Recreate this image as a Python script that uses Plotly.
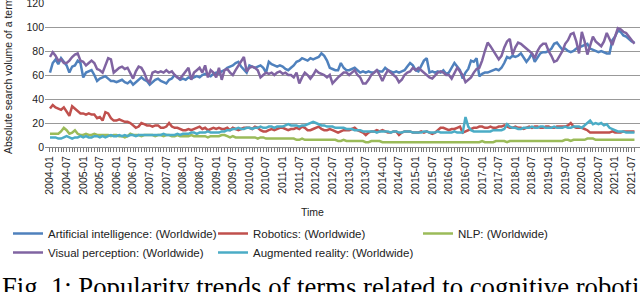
import plotly.graph_objects as go

# Monthly categories 2004-01 .. 2021-08
months = [f"{y}-{m:02d}" for y in range(2004, 2022) for m in range(1, 13)][:212]
tick_labels = [m for m in months if m.endswith("-01") or m.endswith("-07")]
y_ticks = [0, 20, 40, 60, 80, 100, 120]

ai = [
    62, 70, 73, 69, 74, 71, 68, 62, 67, 68, 72, 70,
    58, 62, 63, 64, 60, 55, 57, 58, 59, 57, 55, 55,
    54, 55, 56, 54, 53, 55, 52, 54, 56, 58, 56, 55,
    52, 54, 56, 57, 55, 54, 53, 56, 57, 60, 58, 56,
    57, 56, 58, 57, 58, 59, 58, 60, 61, 60, 59, 61,
    62, 61, 63, 64, 66, 67, 68, 70, 71, 67, 64, 62,
    68, 67, 66, 67, 68, 66, 62, 71, 69, 68, 67, 68,
    67, 65, 64, 66, 68, 71, 72, 74, 73, 72, 74, 73,
    74, 75, 78, 76, 72, 66, 65, 64, 64, 70, 66, 64,
    64, 65, 66, 64, 62, 63, 62, 63, 62, 62, 64, 63,
    63, 66, 64, 63, 62, 63, 62, 63, 64, 67, 70, 68,
    64, 63, 68, 72, 74, 62, 63, 62, 63, 62, 64, 61,
    62, 66, 70, 67, 64, 57, 62, 65, 72, 71, 74, 59,
    61, 62, 62, 63, 64, 65, 64, 66, 70, 75, 74, 76,
    75, 76, 78, 74, 71, 74, 78, 71, 74, 78, 79, 79,
    80, 82, 86, 87, 84, 81, 82, 80, 79, 80, 82, 83,
    84, 85, 86, 82, 81, 80, 79, 80, 79, 78, 78, 89,
    92, 97, 96, 93, 92, 90, 88, 87,
]

robotics = [
    32, 35, 33, 32, 31, 33, 30, 26, 34, 32, 30, 28,
    28, 27, 28, 27, 27, 24, 25, 22, 29, 28, 24, 22,
    22, 23, 22, 21, 21, 20, 18, 16, 17, 20, 19, 18,
    18, 17, 18, 18, 16, 16, 17, 20, 17, 16, 16, 15,
    14, 14, 15, 14, 15, 16, 17, 15, 16, 14, 15, 16,
    15, 16, 15, 15, 16, 14, 16, 15, 14, 15, 16, 16,
    16, 15, 17, 16, 14, 13, 13, 14, 15, 14, 15, 16,
    16, 15, 14, 15, 15, 16, 15, 17, 16, 14, 14, 15,
    16, 17, 15, 14, 14, 15, 14, 13, 12, 13, 14, 14,
    14, 15, 16, 14, 13, 12, 10, 12, 13, 13, 14, 13,
    14, 13, 12, 12, 13, 13, 10, 12, 13, 13, 13, 12,
    12, 12, 13, 12, 13, 12, 11, 12, 14, 16, 16, 15,
    14, 15, 15, 16, 17, 12, 13, 14, 15, 16, 16, 17,
    17, 16, 16, 17, 16, 16, 17, 17, 18, 17, 16, 16,
    17, 16, 16, 15, 16, 17, 16, 17, 17, 16, 16, 17,
    17, 16, 16, 17, 17, 17, 17, 18, 20, 17, 16, 16,
    16, 15, 14, 12, 12, 12, 12, 12, 12, 12, 12, 13,
    12, 12, 12, 13, 13, 13, 13, 13,
]

nlp = [
    11, 11, 11, 11, 13, 16, 14, 11, 12, 14, 11, 10,
    10, 11, 10, 10, 11, 10, 10, 10, 10, 10, 9, 10,
    10, 9, 9, 8, 9, 11, 10, 10, 10, 9, 10, 10,
    10, 10, 9, 10, 10, 9, 10, 10, 9, 9, 10, 9,
    9, 9, 9, 10, 9, 9, 9, 9, 9, 8, 9, 9,
    9, 9, 10, 10, 9, 8, 9, 8, 8, 8, 8, 8,
    8, 8, 8, 7, 8, 8, 7, 7, 7, 7, 7, 7,
    7, 7, 7, 7, 7, 6, 6, 7, 6, 6, 6, 6,
    6, 6, 6, 6, 6, 6, 6, 6, 5, 5, 6, 5,
    5, 5, 5, 5, 5, 5, 4, 4, 5, 5, 5, 5,
    4, 4, 4, 4, 4, 4, 4, 4, 4, 4, 4, 4,
    4, 4, 4, 4, 4, 4, 4, 4, 4, 4, 4, 4,
    4, 4, 4, 4, 4, 4, 4, 4, 4, 4, 4, 4,
    5, 4, 4, 4, 4, 5, 5, 5, 5, 4, 5, 5,
    5, 5, 5, 5, 5, 5, 5, 5, 5, 5, 5, 5,
    5, 5, 5, 5, 5, 5, 6, 6, 5, 6, 6, 6,
    6, 6, 7, 7, 7, 6, 6, 6, 6, 6, 6, 6,
    6, 6, 6, 6, 6, 6, 6, 6,
]

visual_perception = [
    75, 79, 76, 72, 73, 70, 70, 72, 75, 77, 78, 72,
    71, 68, 70, 72, 70, 65, 64, 62, 68, 74, 73, 62,
    64, 66, 67, 65, 66, 62, 57, 63, 67, 66, 62, 56,
    54, 62, 63, 62, 63, 62, 64, 62, 63, 60, 58, 57,
    60, 64, 66, 56, 62, 64, 66, 62, 68, 58, 64, 62,
    58, 66, 56, 64, 65, 62, 60, 64, 68, 72, 75, 63,
    66, 67, 66, 64, 58, 60, 62, 61, 62, 60, 62, 63,
    61, 62, 60, 60, 58, 62, 53, 58, 62, 60, 57, 60,
    64, 62, 61, 60, 58, 60, 53, 56, 58, 60, 62, 62,
    60, 62, 64, 60, 58, 53, 53, 56, 60, 62, 64, 60,
    55, 60, 64, 62, 60, 58, 54, 56, 60, 62, 63, 66,
    64, 66, 64, 62, 60, 58, 57, 60, 62, 63, 62, 60,
    60, 57, 62, 66, 63, 60, 54, 56, 58, 62, 65, 66,
    72, 80, 87, 84, 80, 76, 73, 76, 83, 88, 90, 77,
    83, 87, 86, 84, 82, 80, 78, 74, 80, 84, 86, 86,
    80, 76, 71, 72, 76, 80, 86, 89, 94, 95, 88, 78,
    96, 88, 77, 84, 92, 88, 86, 84, 88, 95, 90, 85,
    92, 99, 98, 96, 95, 92, 88, 86,
]

augmented_reality = [
    8, 8, 8, 7, 7, 8, 9, 8, 7, 8, 8, 9,
    8, 9, 8, 8, 9, 9, 8, 9, 8, 9, 10, 9,
    9, 10, 9, 10, 9, 10, 10, 9, 10, 10, 10, 10,
    10, 10, 10, 10, 10, 11, 10, 10, 10, 10, 11, 10,
    11, 11, 11, 12, 12, 11, 12, 12, 12, 13, 12, 12,
    12, 12, 13, 13, 14, 14, 15, 15, 16, 15, 15, 16,
    16, 15, 16, 16, 17, 16, 16, 17, 17, 16, 17, 17,
    17, 18, 19, 18, 18, 18, 17, 18, 18, 19, 20, 21,
    20, 19, 18, 18, 17, 17, 17, 16, 16, 16, 16, 15,
    15, 15, 14, 14, 14, 13, 13, 13, 13, 13, 12, 13,
    13, 13, 13, 12, 13, 13, 12, 12, 13, 13, 13, 12,
    12, 12, 12, 13, 13, 12, 12, 12, 13, 12, 12, 12,
    12, 12, 13, 12, 12, 12, 25, 17, 14, 13, 13, 13,
    13, 13, 13, 13, 14, 14, 14, 14, 15, 19, 17, 16,
    16, 15, 15, 16, 16, 16, 17, 16, 16, 17, 17, 16,
    16, 16, 17, 16, 16, 16, 17, 16, 16, 17, 17, 17,
    16, 18, 20, 22, 19, 20, 19, 20, 18, 19, 16, 15,
    14, 13, 13, 13, 12, 12, 12, 12,
]

series = [
    ("Artificial intelligence: (Worldwide)", ai, "#4F81BD"),
    ("Robotics: (Worldwide)", robotics, "#C0504D"),
    ("NLP: (Worldwide)", nlp, "#9BBB59"),
    ("Visual perception: (Worldwide)", visual_perception, "#8064A2"),
    ("Augmented reality: (Worldwide)", augmented_reality, "#4BACC6"),
]

fig = go.Figure()
for name, vals, col in series:
    fig.add_trace(go.Scatter(x=months, y=vals, mode="lines", name=name,
                             line=dict(color=col, width=2.5)))

PLOT_L, PLOT_W, PLOT_B, PLOT_H = 45, 595, 147, 144

def px_x(x):
    return (x - PLOT_L) / PLOT_W

def px_y(y):
    return (PLOT_B - y) / PLOT_H

font_fam = "Liberation Sans, Arial, sans-serif"
fig.update_layout(
    width=640, height=292,
    margin=dict(l=45, r=0, t=3, b=145, autoexpand=False),
    paper_bgcolor="white", plot_bgcolor="white",
    font=dict(family=font_fam, size=10.5, color="#222"),
    showlegend=True,
    legend=dict(orientation="h", x=px_x(8), xanchor="left", y=px_y(219), yanchor="top",
                entrywidth=160, entrywidthmode="pixels",
                font=dict(size=11.5, color="#222"), tracegroupgap=0,
                bgcolor="rgba(0,0,0,0)"),
    xaxis=dict(type="category", range=[-1.8, 213.0], automargin=False,
               tickmode="array", tickvals=months,
               ticktext=[m if m in tick_labels else "" for m in months],
               tickangle=-90, ticks="outside", ticklen=4, tickcolor="#777",
               showgrid=False, showline=True, linecolor="#888", linewidth=1,
               tickfont=dict(size=10.5, color="#222")),
    yaxis=dict(range=[0, 120], tickvals=y_ticks, automargin=False,
               ticklabeloverflow="allow",
               showgrid=True, gridcolor="#999", gridwidth=1, zeroline=False,
               showline=False, ticks="", tickfont=dict(size=10.5, color="#222")),
    shapes=[
        dict(type="line", xref="paper", yref="y", x0=0, x1=1, y0=120, y1=120,
             line=dict(color="white", width=2), layer="below"),
    ],
    annotations=[
        dict(text="Time", xref="paper", yref="paper", x=px_x(312), y=px_y(204),
             xanchor="center", yanchor="top", showarrow=False,
             font=dict(size=10.5, color="#222")),
        dict(text="Absolute search volume of a term", xref="paper", yref="paper",
             x=px_x(8), y=px_y(76), xanchor="center", yanchor="middle",
             textangle=-90, showarrow=False, font=dict(size=10.5, color="#222")),
        dict(text="Fig. 1: Popularity trends of terms related to cognitive robotics",
             xref="paper", yref="paper", x=px_x(0), y=px_y(270),
             xanchor="left", yanchor="top", showarrow=False,
             font=dict(family="Liberation Serif, Times New Roman, serif", size=26.7, color="#000")),
    ],
)

fig.write_html("out.html", config={"displayModeBar": False},
               post_script="document.body.style.margin='0';")
